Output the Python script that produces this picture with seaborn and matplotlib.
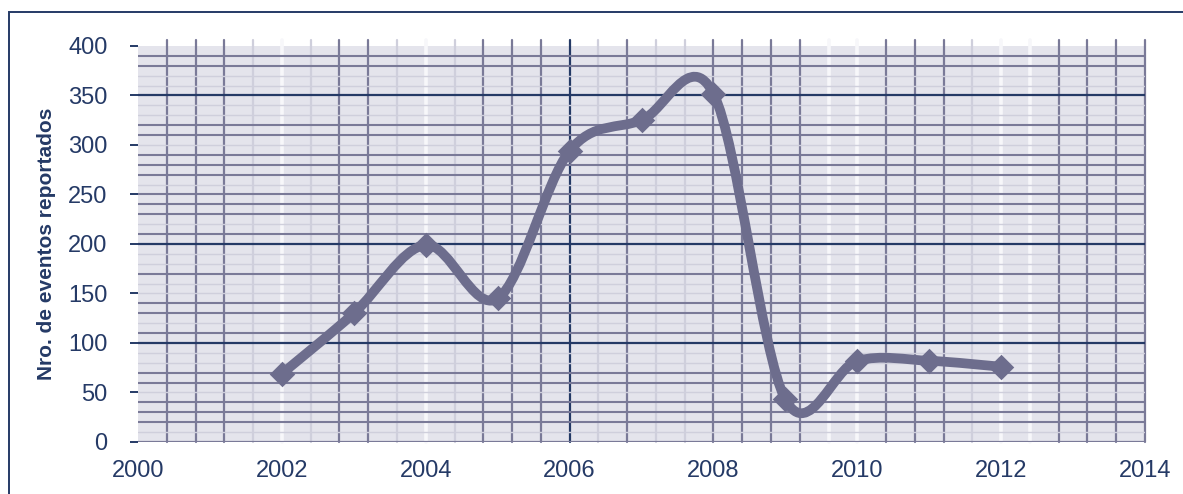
import numpy as np
import pandas as pd
import matplotlib
matplotlib.use('Agg')
import matplotlib.pyplot as plt
import seaborn as sns
from matplotlib.path import Path
from matplotlib.patches import PathPatch, Rectangle

# Data
years = [2002, 2003, 2004, 2005, 2006, 2007, 2008, 2009, 2010, 2011, 2012]
eventos = [69, 130, 199, 145, 294, 325, 352, 43, 82, 82, 76]
y_ticks = [0, 50, 100, 150, 200, 250, 300, 350, 400]
x_ticks = [2000, 2002, 2004, 2006, 2008, 2010, 2012, 2014]
y_label = 'Nro. de eventos reportados'

df = pd.DataFrame({'year': years, 'eventos': eventos})

NAVY = '#253a66'
LINE = '#6d6d8d'
DARK = '#7a7a98'
FAINT = '#cfcfdc'
WHITE = '#f7f7fa'
BG = '#e4e4ec'

sns.set_style('white')
plt.rcParams['font.family'] = ['Liberation Sans', 'DejaVu Sans']

fig = plt.figure(figsize=(11.83, 4.94), dpi=100)
ax = fig.add_axes([0.1167, 0.1053, 0.8512, 0.8016])
ax.set_facecolor(BG)

# outer frame of the original panel (runs off the canvas right/bottom)
fig.patches.append(Rectangle((9 / 1183, -0.1), 1.2, 1 - 12 / 494 + 0.1,
                             transform=fig.transFigure, fill=False,
                             edgecolor=NAVY, linewidth=1.4))

# vertical grid: every 0.4 years, uneven look of the scanned original
v_style = "DDDFWFDDFWFDDDNFDFFDDDDWWDDDFWWDDDD"
for k, s in enumerate(v_style, start=1):
    x = 2000 + 0.4 * k
    col = {'D': DARK, 'F': FAINT, 'W': WHITE, 'N': NAVY}[s]
    lw = 2.6 if s == 'W' else 1.6
    ax.plot([x, x], [0, 406], color=col, lw=lw, zorder=1, clip_on=False)

# horizontal grid: every 10 units
dark_h = {20, 30, 40, 60, 70, 110, 130, 140, 170, 210, 230, 240, 250,
          270, 280, 290, 310, 320, 380, 390}
navy_h = {0, 100, 200, 350}
for v in range(10, 400, 10):
    if v in navy_h:
        col, lw = NAVY, 1.6
    elif v in dark_h:
        col, lw = DARK, 1.5
    else:
        col, lw = FAINT, 1.0
    ax.axhline(v, color=col, lw=lw, zorder=1.5)
ax.axhline(0, color=DARK, lw=1.6, zorder=1.5)

# smoothed line (Catmull-Rom style bezier through the data points)
xs = np.array(years, dtype=float)
ys = np.array(eventos, dtype=float)
verts = [(xs[0], ys[0])]
codes = [Path.MOVETO]
n = len(xs)
for i in range(n - 1):
    p0 = np.array([xs[max(i - 1, 0)], ys[max(i - 1, 0)]])
    p1 = np.array([xs[i], ys[i]])
    p2 = np.array([xs[i + 1], ys[i + 1]])
    p3 = np.array([xs[min(i + 2, n - 1)], ys[min(i + 2, n - 1)]])
    c1 = p1 + (p2 - p0) / 6
    c2 = p2 - (p3 - p1) / 6
    verts += [tuple(c1), tuple(c2), tuple(p2)]
    codes += [Path.CURVE4] * 3
ax.add_patch(PathPatch(Path(verts, codes), facecolor='none', edgecolor=LINE,
                       lw=7, capstyle='round', joinstyle='round', zorder=3))

sns.scatterplot(data=df, x='year', y='eventos', marker='D', s=13 ** 2,
                color=LINE, edgecolor=LINE, linewidth=0, ax=ax, zorder=4,
                legend=False)

ax.set_xlim(2000, 2014)
ax.set_ylim(0, 400)
ax.set_xticks(x_ticks)
ax.set_yticks(y_ticks)
ax.tick_params(axis='y', length=6, width=1.4, color=NAVY, labelcolor=NAVY,
               labelsize=17, pad=16, direction='out', left=True)
ax.tick_params(axis='x', length=0, labelcolor=NAVY, labelsize=17, pad=13)
for sp in ax.spines.values():
    sp.set_visible(False)
ax.grid(False)
ax.set_xlabel('')
ax.set_ylabel(y_label, fontsize=15, fontweight='bold', color=NAVY, labelpad=9)

fig.savefig('out.png', dpi=100)
